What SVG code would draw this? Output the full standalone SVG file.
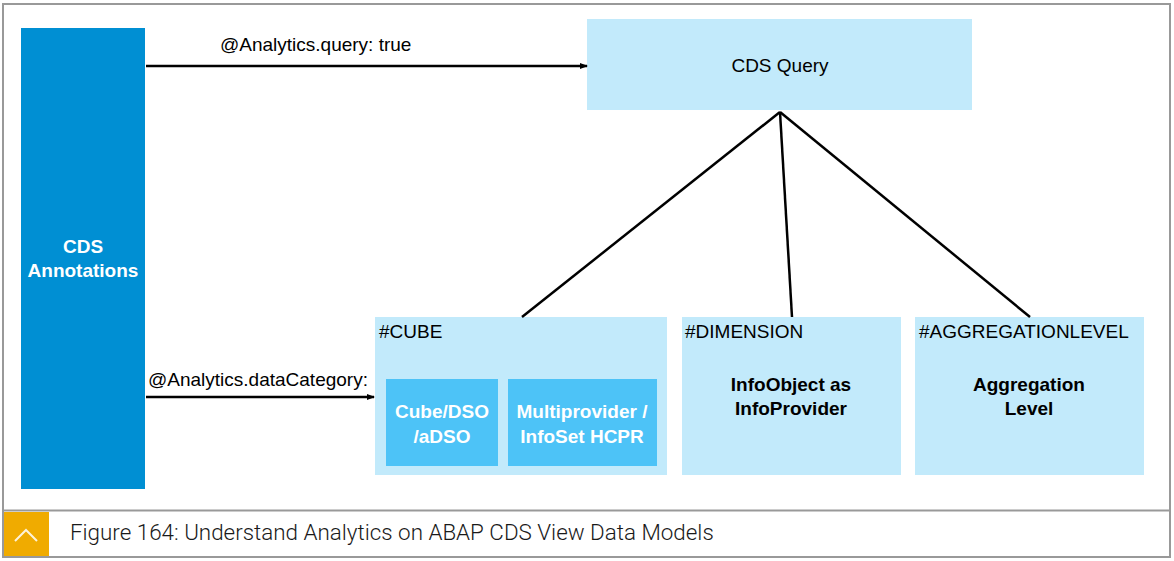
<svg xmlns="http://www.w3.org/2000/svg" width="1174" height="561" viewBox="0 0 1174 561">
<defs>
<style>
.t{font-family:"Liberation Sans",Arial,sans-serif;fill:#000;font-size:19px}
.lb{fill:#C2EAFB}
.mid{fill:#4DC3F7}
.wb{font-family:"Liberation Sans",Arial,sans-serif;font-weight:bold;fill:#fff;font-size:19px;text-anchor:middle}
.bb{font-family:"Liberation Sans",Arial,sans-serif;font-weight:bold;fill:#000;font-size:19px;text-anchor:middle}
.ln{stroke:#000;stroke-width:2.5;fill:none}
</style>
<marker id="ah" markerWidth="8" markerHeight="8" refX="7" refY="4" orient="auto" markerUnits="userSpaceOnUse">
<path d="M0,1 L8,4 L0,7 z" fill="#000"/>
</marker>
</defs>
<rect x="0" y="0" width="1174" height="561" fill="#fff"/>
<rect x="3" y="4" width="1167" height="553" fill="#fff" stroke="#999" stroke-width="2"/>
<line x1="3" y1="510.5" x2="1170" y2="510.5" stroke="#999" stroke-width="2"/>
<g id="caption">
<rect x="4" y="512" width="45" height="44" fill="#F0AB00"/>
<path d="M15,541 L26,530 L37,541" stroke="#fff" stroke-width="2" fill="none" opacity="0.85"/>
<text x="70" y="540" font-family="Roboto,'Liberation Sans',sans-serif" font-size="22.4" font-weight="300" fill="#1a1a1a">Figure 164: Understand Analytics on ABAP CDS View Data Models</text>
</g>
<g id="annotations">
<rect x="21" y="28" width="124" height="461" fill="#008FD3"/>
<text class="wb" x="83" y="253">CDS</text>
<text class="wb" x="83" y="277">Annotations</text>
</g>
<g id="cdsquery">
<rect class="lb" x="587" y="19" width="385" height="91"/>
<text class="t" x="780" y="72" text-anchor="middle">CDS Query</text>
</g>
<g id="cube">
<rect class="lb" x="375" y="317" width="292" height="158"/>
<text class="t" x="379" y="338">#CUBE</text>
<rect class="mid" x="386" y="379" width="112" height="87"/>
<text class="wb" x="442" y="418">Cube/DSO</text>
<text class="wb" x="442" y="443">/aDSO</text>
<rect class="mid" x="508" y="379" width="149" height="87"/>
<text class="wb" x="582" y="418">Multiprovider /</text>
<text class="wb" x="582" y="443">InfoSet HCPR</text>
</g>
<g id="dimension">
<rect class="lb" x="682" y="317" width="219" height="158"/>
<text class="t" x="685" y="338">#DIMENSION</text>
<text class="bb" x="791" y="391">InfoObject as</text>
<text class="bb" x="791" y="415">InfoProvider</text>
</g>
<g id="aggregation">
<rect class="lb" x="915" y="317" width="229" height="158"/>
<text class="t" x="919" y="338">#AGGREGATIONLEVEL</text>
<text class="bb" x="1029" y="391">Aggregation</text>
<text class="bb" x="1029" y="415">Level</text>
</g>
<g id="connectors">
<line class="ln" x1="146" y1="66" x2="587" y2="66" stroke-width="2" marker-end="url(#ah)"/>
<text class="t" x="220" y="51">@Analytics.query: true</text>
<line class="ln" x1="146" y1="397" x2="374" y2="397" stroke-width="2" marker-end="url(#ah)"/>
<text class="t" x="148" y="386">@Analytics.dataCategory:</text>
<line class="ln" x1="780" y1="112" x2="522" y2="317"/>
<line class="ln" x1="780" y1="112" x2="792" y2="317"/>
<line class="ln" x1="780" y1="112" x2="1030" y2="317"/>
</g>
</svg>
